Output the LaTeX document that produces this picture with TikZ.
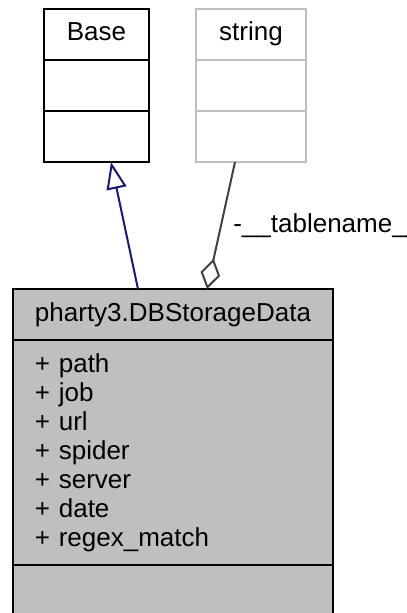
\documentclass[tikz,border=0pt]{standalone}
\usepackage{fontspec}
\setmainfont{Liberation Sans}
\usepackage{tikz}
\usetikzlibrary{arrows.meta,positioning,calc}
\definecolor{UmlNavy}{HTML}{191970}
\definecolor{UmlFill}{HTML}{BFBFBF}
\definecolor{UmlLine}{HTML}{404040}

\begin{document}
\begin{tikzpicture}[x=1bp,y=-1bp,
  every node/.style={font=\fontsize{26bp}{29bp}\selectfont,outer sep=0pt},
  part/.style={draw,rectangle,line width=2bp,inner sep=0pt,minimum height=51bp},
  title/.style={part,text height=19bp,text depth=6bp},
  attrs/.style={part,minimum height=225bp,text width=276bp,inner xsep=22bp,align=left}]
\clip (0,0) rectangle (406,613);
% base class
\node[title,minimum width=105bp] (base) at (96.5,34.5) {Base};
\node[part,minimum width=105bp,below=0pt of base] (baseattr) {};
\node[part,minimum width=105bp,below=0pt of baseattr] (baseops) {};
% string
\node[title,draw=UmlFill,minimum width=110bp] (str) at (251,34.5) {string};
\node[part,draw=UmlFill,minimum width=110bp,below=0pt of str] (strattr) {};
\node[part,draw=UmlFill,minimum width=110bp,below=0pt of strattr] (strops) {};
% the class itself
\node[title,fill=UmlFill,minimum width=320bp] (data) at (173,314.5) {pharty3.DBStorageData};
\node[attrs,fill=UmlFill,below=0pt of data] (dataattr) {+ path\\+ job\\+ url\\+ spider\\+ server\\+ date\\+ regex\_match};
\node[part,fill=UmlFill,minimum width=320bp,below=0pt of dataattr] (dataops) {};
% relations
\draw[UmlNavy,line width=2bp,-{Triangle[open,length=27bp,width=20bp,fill=white]}] ([xshift=-35bp]data.north) -- ([xshift=14.5bp]baseops.south);
\draw[UmlLine,line width=2bp,{Diamond[open,length=31bp,width=20bp,fill=white]}-] ([xshift=34bp]data.north) -- ([xshift=-16bp]strops.south);
\node[anchor=base west] (tname) at (230,232) {-\_\_tablename\_\_};
\end{tikzpicture}
\end{document}
